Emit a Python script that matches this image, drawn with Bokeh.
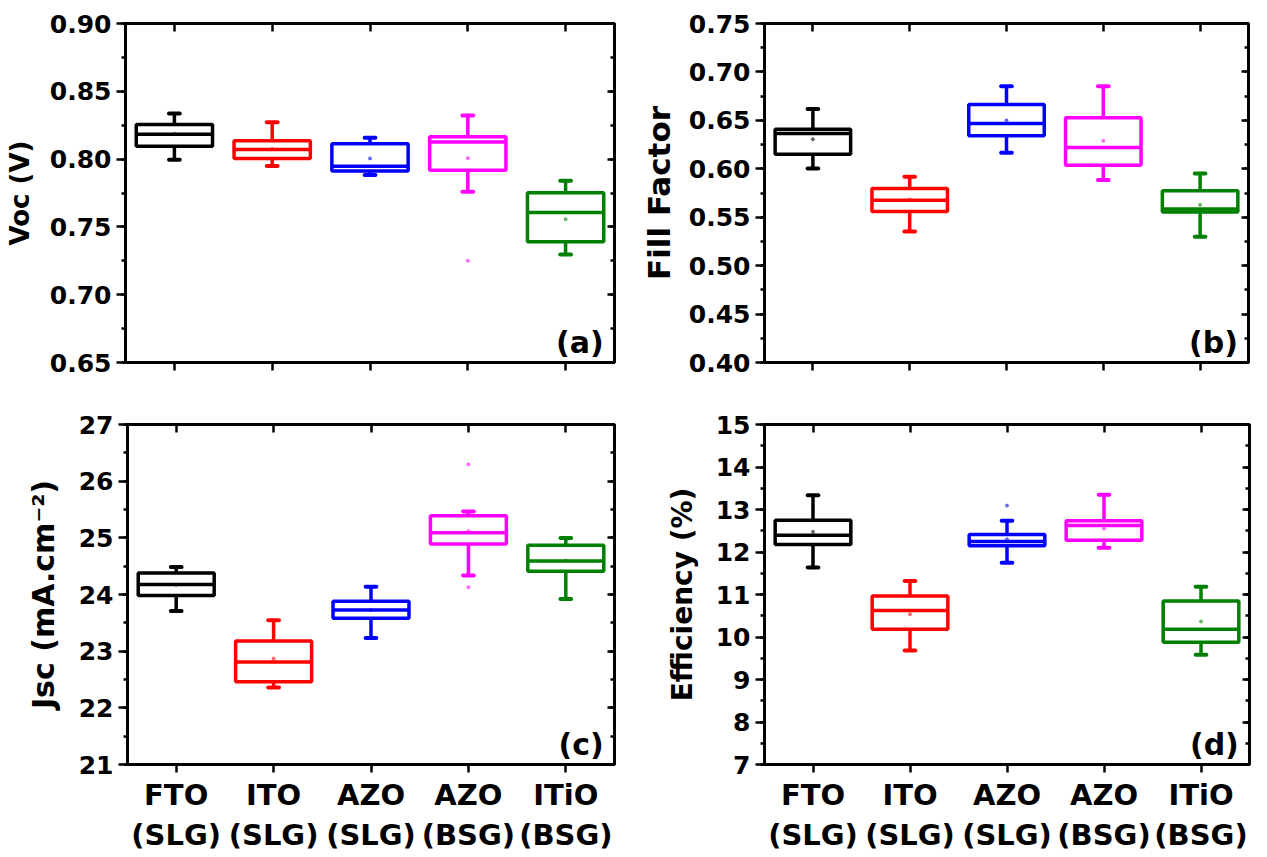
from bokeh.plotting import figure
from bokeh.models import (ColumnDataSource, LinearAxis, FixedTicker, SingleIntervalTicker,
                          Range1d, NumeralTickFormatter, Label, CustomLabelingPolicy)
from bokeh.layouts import column, row
from bokeh.embed import file_html
from bokeh.resources import INLINE

# ---- data -------------------------------------------------------------
categories = ["FTO\n(SLG)", "ITO\n(SLG)", "AZO\n(SLG)", "AZO\n(BSG)", "ITiO\n(BSG)"]
colors = ["#000000", "#ff0000", "#0000ff", "#ff00ff", "#008000"]
positions = [1, 2, 3, 4, 5]

# open-circuit voltage (V)
voc_low = [0.7995, 0.7950, 0.7882, 0.7759, 0.7296]
voc_q1 = [0.8095, 0.8004, 0.7913, 0.7918, 0.7390]
voc_med = [0.8184, 0.8071, 0.7948, 0.8127, 0.7606]
voc_q3 = [0.8255, 0.8135, 0.8113, 0.8164, 0.7751]
voc_high = [0.8336, 0.8272, 0.8157, 0.8322, 0.7840]
voc_mean = [0.8185, 0.8075, 0.8005, 0.8007, 0.7557]
voc_out_x = [4]
voc_out_y = [0.7250]

# fill factor
ff_low = [0.6003, 0.5353, 0.6165, 0.5883, 0.5298]
ff_q1 = [0.6151, 0.5559, 0.6340, 0.6037, 0.5555]
ff_med = [0.6364, 0.5676, 0.6468, 0.6220, 0.5585]
ff_q3 = [0.6409, 0.5797, 0.6664, 0.6526, 0.5773]
ff_high = [0.6616, 0.5917, 0.6853, 0.6853, 0.5951]
ff_mean = [0.6306, 0.5680, 0.6500, 0.6289, 0.5628]
ff_out_x = []
ff_out_y = []

# short-circuit current density (mA/cm2)
jsc_low = [23.708, 22.360, 23.233, 24.334, 23.919]
jsc_q1 = [23.983, 22.460, 23.579, 24.891, 24.411]
jsc_med = [24.176, 22.811, 23.725, 25.090, 24.592]
jsc_q3 = [24.381, 23.180, 23.883, 25.389, 24.868]
jsc_high = [24.487, 23.544, 24.135, 25.465, 24.996]
jsc_mean = [24.170, 22.870, 23.730, 25.120, 24.600]
jsc_out_x = [4, 4]
jsc_out_y = [26.297, 24.130]

# efficiency (%)
eff_low = [11.638, 9.683, 11.747, 12.099, 9.582]
eff_q1 = [12.177, 10.184, 12.146, 12.279, 9.879]
eff_med = [12.396, 10.622, 12.248, 12.623, 10.184]
eff_q3 = [12.748, 10.966, 12.412, 12.733, 10.848]
eff_high = [13.335, 11.317, 12.733, 13.350, 11.185]
eff_mean = [12.475, 10.536, 12.300, 12.550, 10.364]
eff_out_x = [3]
eff_out_y = [13.092]

FONT = "DejaVu Sans"
BOX_HALF = 0.39
CAP_HALF = 0.055

# axes that only carry tick marks: drop every label
NO_LABELS = """
for (const i of indices)
    indices.unset(i)
return indices
"""


def style_axis(ax, tick_in, tick_out, minor_in, minor_out, label_size="25px"):
    ax.axis_line_width = 3
    ax.axis_line_color = "black"
    ax.major_tick_line_width = 2.5
    ax.minor_tick_line_width = 2.5
    ax.major_tick_in = tick_in
    ax.major_tick_out = tick_out
    ax.minor_tick_in = minor_in
    ax.minor_tick_out = minor_out
    ax.major_label_text_font = FONT
    ax.major_label_text_font_style = "bold"
    ax.major_label_text_font_size = label_size
    ax.major_label_text_color = "black"


def hide_labels(ax):
    ax.major_label_policy = CustomLabelingPolicy(code=NO_LABELS)
    ax.major_label_text_font_size = "0px"
    ax.major_label_standoff = 0


def panel(ylo, yhi, step, fmt, ylabel, ylabel_size, ylabel_standoff, tag,
          low, q1, med, q3, high, mean, out_x, out_y,
          width, height, borders, show_x_labels):
    left, right, top, bottom = borders
    p = figure(width=width, height=height, x_range=Range1d(0.5, 5.5),
               y_range=Range1d(ylo, yhi), output_backend="svg",
               toolbar_location=None, min_border_left=left,
               min_border_right=right, min_border_top=top,
               min_border_bottom=bottom, background_fill_color="white",
               border_fill_color="white")
    p.xgrid.visible = False
    p.ygrid.visible = False
    p.outline_line_color = "black"
    p.outline_line_width = 3

    # left value axis
    yax = p.left[0]
    yax.ticker = SingleIntervalTicker(interval=step, num_minor_ticks=2)
    yax.formatter = NumeralTickFormatter(format=fmt)
    style_axis(yax, 0, 9, 0, 4)
    yax.major_label_standoff = 5
    yax.axis_label = ylabel
    yax.axis_label_text_font = FONT
    yax.axis_label_text_font_style = "bold"
    yax.axis_label_text_font_size = ylabel_size
    yax.axis_label_text_color = "black"
    yax.axis_label_standoff = ylabel_standoff

    # mirrored right axis, ticks pointing inward
    rax = LinearAxis(ticker=SingleIntervalTicker(interval=step, num_minor_ticks=2))
    style_axis(rax, 7, 0, 4, 0)
    hide_labels(rax)
    p.add_layout(rax, "right")

    # category axis at the bottom
    xax = p.below[0]
    xax.ticker = FixedTicker(ticks=positions, minor_ticks=[])
    style_axis(xax, 0, 8, 0, 0, label_size="29px")
    xax.major_label_standoff = 5
    xax.major_label_text_line_height = 1.2
    xax.major_label_overrides = {pos: lab for pos, lab in zip(positions, categories)}
    if not show_x_labels:
        hide_labels(xax)

    # mirrored top axis, ticks pointing inward
    tax = LinearAxis(ticker=FixedTicker(ticks=positions, minor_ticks=[]))
    style_axis(tax, 8, 0, 0, 0)
    hide_labels(tax)
    p.add_layout(tax, "above")

    src = ColumnDataSource(dict(
        x=positions,
        left=[x - BOX_HALF for x in positions],
        right=[x + BOX_HALF for x in positions],
        cap_l=[x - CAP_HALF for x in positions],
        cap_r=[x + CAP_HALF for x in positions],
        low=low, q1=q1, med=med, q3=q3, high=high, mean=mean, color=colors,
    ))

    # whiskers
    p.segment(x0="x", y0="q3", x1="x", y1="high", source=src,
              line_color="color", line_width=3.5)
    p.segment(x0="x", y0="q1", x1="x", y1="low", source=src,
              line_color="color", line_width=3.5)
    # whisker caps
    p.segment(x0="cap_l", y0="high", x1="cap_r", y1="high", source=src,
              line_color="color", line_width=4, line_cap="round")
    p.segment(x0="cap_l", y0="low", x1="cap_r", y1="low", source=src,
              line_color="color", line_width=4, line_cap="round")
    # boxes and medians
    p.quad(left="left", right="right", bottom="q1", top="q3", source=src,
           fill_color="white", line_color="color", line_width=3.5)
    p.segment(x0="left", y0="med", x1="right", y1="med", source=src,
              line_color="color", line_width=3.5)
    # means
    p.scatter(x="x", y="mean", source=src, size=3, color="color", alpha=0.5)
    # outliers
    if out_x:
        out_src = ColumnDataSource(dict(x=out_x, y=out_y,
                                        color=[colors[i - 1] for i in out_x]))
        p.scatter(x="x", y="y", source=out_src, size=3, color="color", alpha=0.5)

    span = yhi - ylo
    p.add_layout(Label(x=5.39, y=ylo + span * 0.006, text=tag,
                       text_align="right", text_baseline="bottom",
                       text_font=FONT, text_font_style="bold",
                       text_font_size="30px", text_color="black"))
    return p


pa = panel(0.65, 0.90, 0.05, "0.00", "Voc (V)", "26px", 12, "(a)",
           voc_low, voc_q1, voc_med, voc_q3, voc_high, voc_mean, voc_out_x, voc_out_y,
           633, 400, (125, 19, 23, 38), False)
pb = panel(0.40, 0.75, 0.05, "0.00", "Fill Factor", "31px", 9, "(b)",
           ff_low, ff_q1, ff_med, ff_q3, ff_high, ff_mean, ff_out_x, ff_out_y,
           634, 400, (131, 19, 23, 38), False)
pc = panel(21, 27, 1, "0", "Jsc (mA.cm⁻²)", "30px", 15, "(c)",
           jsc_low, jsc_q1, jsc_med, jsc_q3, jsc_high, jsc_mean, jsc_out_x, jsc_out_y,
           633, 457, (127, 19, 23, 93), True)
pd = panel(7, 15, 1, "0", "Efficiency (%)", "28px", 14, "(d)",
           eff_low, eff_q1, eff_med, eff_q3, eff_high, eff_mean, eff_out_x, eff_out_y,
           634, 457, (131, 18, 24, 92), True)

layout = column(row(pa, pb), row(pc, pd))

with open("out.html", "w") as f:
    f.write(file_html(layout, INLINE))
